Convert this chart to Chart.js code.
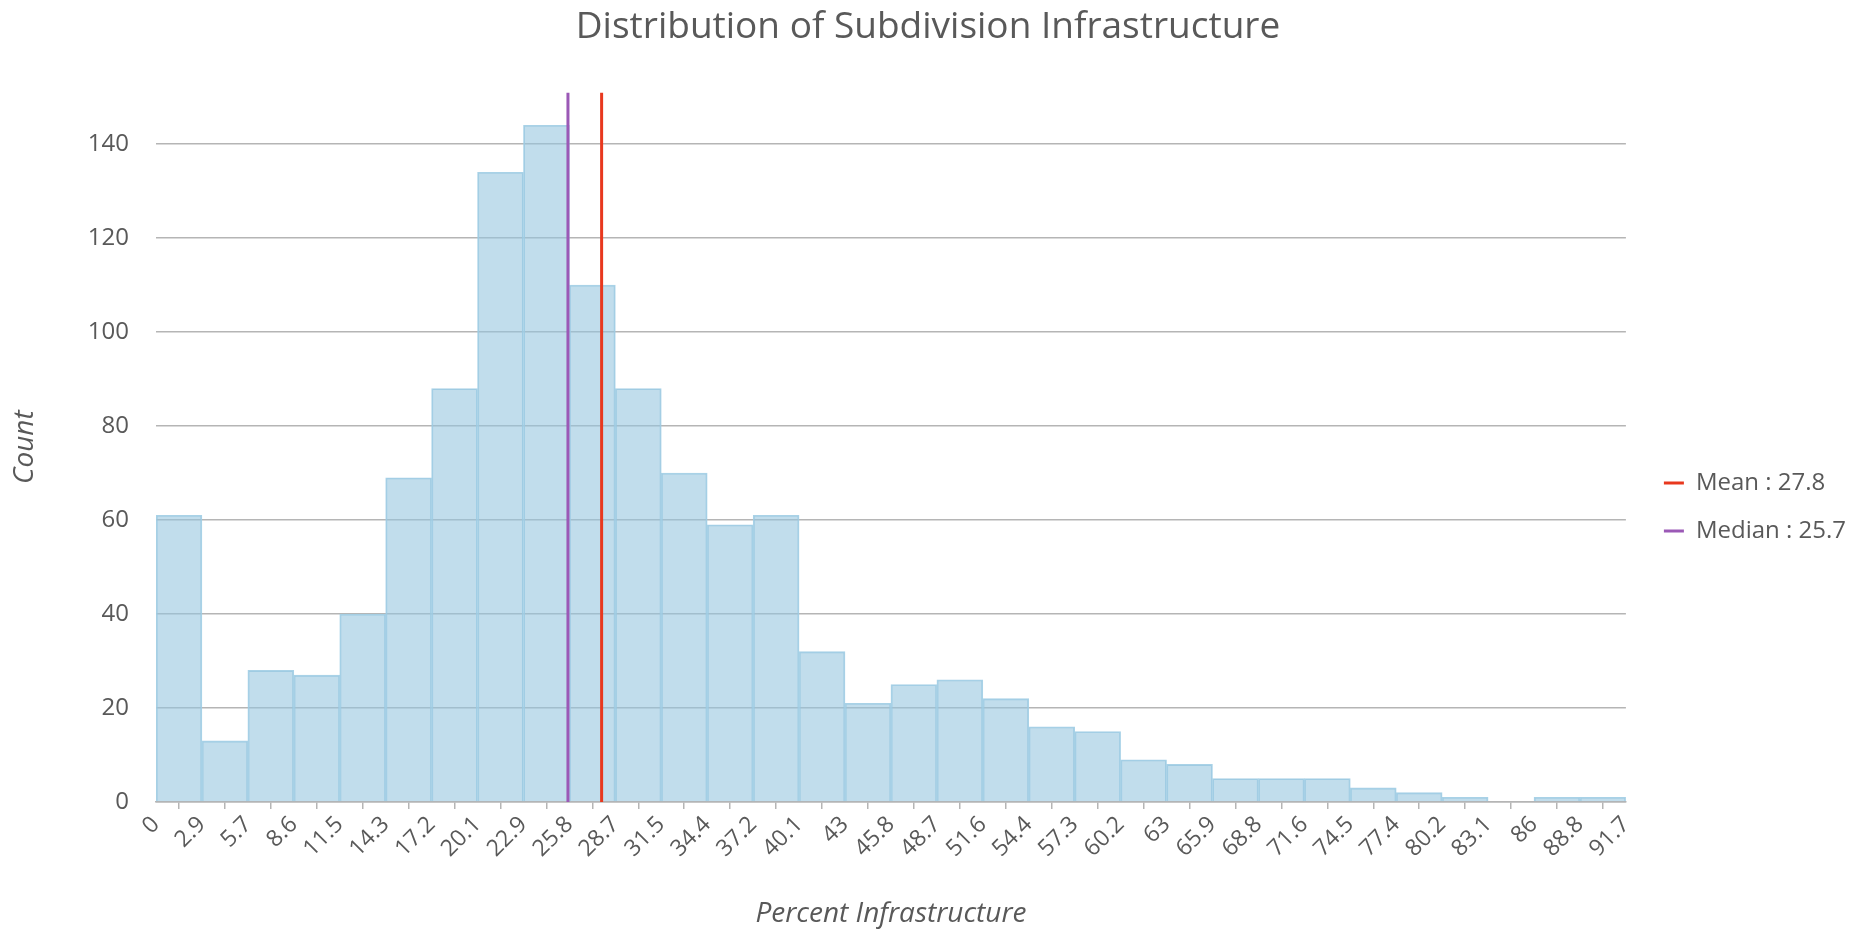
<!DOCTYPE html>
<html>
<head>
<meta charset="utf-8">
<title>Distribution of Subdivision Infrastructure</title>
<script src="https://cdn.jsdelivr.net/npm/chart.js@4/dist/chart.umd.min.js"></script>
<style>
    html, body { margin: 0; padding: 0; background: #fff; }
    #wrap { width: 1868px; height: 931px; }
</style>
</head>
<body>
<div id="wrap"><canvas id="histChart" width="1868" height="931"></canvas></div>
<script>
// Bin edge labels along the x-axis
var binEdgeLabels = ['0', '2.9', '5.7', '8.6', '11.5', '14.3', '17.2', '20.1', '22.9', '25.8', '28.7',
    '31.5', '34.4', '37.2', '40.1', '43', '45.8', '48.7', '51.6', '54.4', '57.3', '60.2', '63',
    '65.9', '68.8', '71.6', '74.5', '77.4', '80.2', '83.1', '86', '88.8', '91.7'];

// Count per bin
var binCounts = [61, 13, 28, 27, 40, 69, 88, 134, 144, 110, 88, 70, 59, 61, 32, 21,
    25, 26, 22, 16, 15, 9, 8, 5, 5, 5, 3, 2, 1, 0, 1, 1];

var yTickValues = [0, 20, 40, 60, 80, 100, 120, 140];
var xMax = 91.7;
var yMax = 151;

var meanValue = 27.8;
var medianValue = 25.7;

var textColor = '#595959';
var gridColor = '#b5b5b5';
var fontFamily = '"Open Sans", "Noto Sans", sans-serif';

// bins are equal width between 0 and xMax
var binWidth = xMax / binCounts.length;
var barPoints = binCounts.map(function (c, i) {
    return { x: (i + 0.5) * binWidth, y: c };
});

var ctx = document.getElementById('histChart');
var histChart = new Chart(ctx, {
    type: 'bar',
    data: {
        datasets: [
            {
                label: 'Count',
                data: barPoints,
                backgroundColor: 'rgba(148, 196, 222, 0.58)',
                borderColor: 'rgba(160, 205, 228, 0.9)',
                borderWidth: 1.2,
                barPercentage: 1,
                categoryPercentage: 1,
                order: 2
            },
            {
                type: 'line',
                label: 'Mean : ' + meanValue,
                data: [{ x: meanValue, y: 0 }, { x: meanValue, y: yMax }],
                borderColor: '#e8381e',
                backgroundColor: '#e8381e',
                borderWidth: 3,
                pointRadius: 0,
                order: 0
            },
            {
                type: 'line',
                label: 'Median : ' + medianValue,
                data: [{ x: medianValue, y: 0 }, { x: medianValue, y: yMax }],
                borderColor: '#9b59b6',
                backgroundColor: '#9b59b6',
                borderWidth: 3,
                pointRadius: 0,
                order: 0
            }
        ]
    },
    options: {
        responsive: false,
        animation: false,
        layout: { padding: { left: 0, right: 12, top: 0, bottom: 0 } },
        plugins: {
            title: {
                display: true,
                text: 'Distribution of Subdivision Infrastructure',
                color: textColor,
                font: { family: fontFamily, size: 37, weight: 'normal' },
                padding: { top: 5, bottom: 43 }
            },
            legend: {
                position: 'right',
                // empty title only pushes the items down a bit
                title: { display: true, text: '', font: { size: 10 }, padding: { top: 0, bottom: 71 } },
                labels: {
                    color: textColor,
                    font: { family: fontFamily, size: 24 },
                    usePointStyle: true,
                    pointStyle: 'line',
                    pointStyleWidth: 20,
                    boxHeight: 2,
                    padding: 24,
                    filter: function (item) { return item.datasetIndex > 0; }
                }
            },
            tooltip: { enabled: false }
        },
        scales: {
            x: {
                type: 'linear',
                min: 0,
                max: xMax,
                offset: false,
                afterBuildTicks: function (scale) {
                    scale.ticks = binEdgeLabels.map(function (l, i) { return { value: i * binWidth }; });
                },
                afterFit: function (scale) { scale.height = 129; },
                ticks: {
                    autoSkip: false,
                    maxRotation: 45,
                    minRotation: 45,
                    padding: 2,
                    color: textColor,
                    font: { family: fontFamily, size: 23 },
                    callback: function (value, index) { return binEdgeLabels[index]; }
                },
                grid: {
                    drawOnChartArea: false,
                    drawTicks: true,
                    tickLength: 7,
                    color: gridColor,
                    lineWidth: 1.5
                },
                border: { display: true, color: gridColor, width: 1.5 },
                title: {
                    display: true,
                    text: 'Percent Infrastructure',
                    color: textColor,
                    font: { family: fontFamily, size: 28, style: 'italic' },
                    padding: { top: 0, bottom: 0 }
                }
            },
            y: {
                min: 0,
                max: yMax,
                afterBuildTicks: function (scale) {
                    scale.ticks = yTickValues.map(function (v) { return { value: v }; });
                },
                afterFit: function (scale) { scale.width = 156; },
                ticks: {
                    padding: 27,
                    color: textColor,
                    font: { family: fontFamily, size: 24 }
                },
                grid: {
                    drawTicks: false,
                    color: gridColor,
                    lineWidth: 1.5
                },
                border: { display: false },
                title: {
                    display: true,
                    text: 'Count',
                    color: textColor,
                    font: { family: fontFamily, size: 28, style: 'italic' },
                    padding: { top: 8, bottom: 4 }
                }
            },
            // empty right-hand axis, only a gap between plot and legend
            yGap: {
                position: 'right',
                display: true,
                afterFit: function (scale) { scale.width = 14; },
                ticks: { display: false },
                grid: { display: false },
                border: { display: false }
            }
        }
    }
});
</script>
</body>
</html>
